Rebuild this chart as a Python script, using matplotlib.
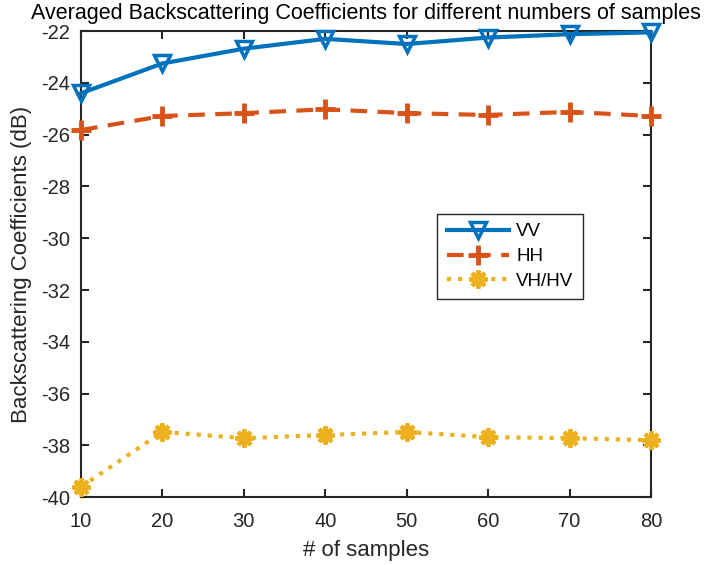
import matplotlib
matplotlib.use('Agg')
import matplotlib.pyplot as plt

plt.rcParams['font.family'] = ['Liberation Sans', 'DejaVu Sans']
plt.rcParams['axes.unicode_minus'] = False

# ======= DATOS ======= #
samples = [10, 20, 30, 40, 50, 60, 70, 80]
vv = [-24.4, -23.25, -22.68, -22.3, -22.5, -22.25, -22.12, -22.05]
hh = [-25.82, -25.28, -25.17, -25.02, -25.17, -25.24, -25.12, -25.28]
vhhv = [-39.6, -37.48, -37.72, -37.6, -37.48, -37.68, -37.72, -37.8]

yticks = list(range(-40, -21, 2))

# ======= GRAFICO ======= #
fig = plt.figure(figsize=(7.17, 5.65), dpi=100)
ax = fig.add_axes([0.113, 0.120, 0.795, 0.825])

ax.plot(samples, vv, '-', color='#0072BD', lw=3, marker='v', ms=11,
        mfc='none', mew=2.5, label='VV', clip_on=False, zorder=3)
ax.plot(samples, hh, '--', color='#D95319', lw=3, marker='+', ms=14,
        mew=3.5, label='HH', dashes=(4, 2.5), clip_on=False, zorder=3)
ax.plot(samples, vhhv, ':', color='#EDB120', lw=3, marker=(8, 2, 0), ms=13,
        mew=3, label='VH/HV', clip_on=False, zorder=3)

ax.set_xlim(10, 80)
ax.set_ylim(-40, -22)
ax.set_yticks(yticks)
ax.set_xticks(samples)
ax.tick_params(direction='in', top=True, right=True, labelsize=14.5,
               length=6, width=1.5, colors='#262626')
ax.tick_params(axis='x', pad=11)
ax.tick_params(axis='y', pad=8)
for s in ax.spines.values():
    s.set_linewidth(1.5)
    s.set_color('#262626')

ax.set_xlabel('# of samples', fontsize=16, color='#262626', labelpad=6)
ax.set_ylabel('Backscattering Coefficients (dB)', fontsize=16, color='#262626',
              labelpad=6)
ax.set_title('Averaged Backscattering Coefficients for different numbers of samples',
             fontsize=15.5, pad=9)

leg = ax.legend(loc='lower left', bbox_to_anchor=(0.625, 0.425), fontsize=13.5,
                fancybox=False, framealpha=1, edgecolor='#262626',
                handlelength=3.3, borderpad=0.5, labelspacing=0.4,
                numpoints=1, handletextpad=0.4, borderaxespad=0)
leg.get_frame().set_linewidth(1.0)

fig.savefig('out.png', dpi=100)
